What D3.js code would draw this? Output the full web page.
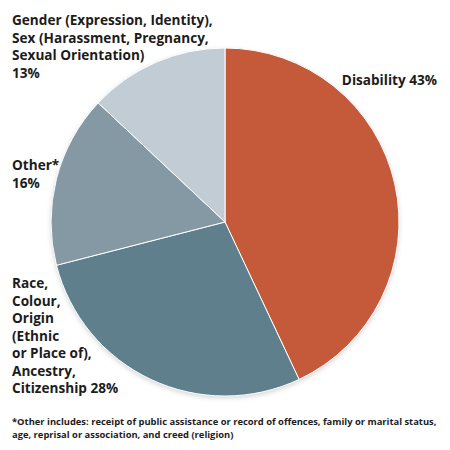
<!DOCTYPE html>
<html>
<head>
<meta charset="utf-8">
<script src="https://cdn.jsdelivr.net/npm/d3@7"></script>
<style>
body { margin: 0; background: #fff; }
text { font-family: "Open Sans", Lato, sans-serif; font-weight: 700; fill: #1c1c1c; }
</style>
</head>
<body>
<div id="container"></div>
<script>
// data
var categories = ["Disability", "Race", "Other", "Gender"];
var shares = [43, 28, 16, 13];
var colors = ["#c55a3b", "#5e7f8b", "#8499a4", "#c1ccd4"];
var labelLines = [
    ["Disability 43%"],
    ["Race,", "Colour,", "Origin", "(Ethnic", "or Place of),", "Ancestry,", "Citizenship 28%"],
    ["Other*", "16%"],
    ["Gender (Expression, Identity),", "Sex (Harassment, Pregnancy,", "Sexual Orientation)", "13%"]
];
var footnote = [
    "*Other includes: receipt of public assistance or record of offences, family or marital status,",
    "age, reprisal or association, and creed (religion)"
];

var width = 450, height = 450;
var cx = 225, cy = 222, radius = 174;

svg = d3.select("#container")
    .append("svg")
    .attr("width", width)
    .attr("height", height)

var defs = svg.append("defs")
var shadow = defs.append("filter")
    .attr("id", "shadow")
    .attr("x", "-10%").attr("y", "-10%")
    .attr("width", "120%").attr("height", "120%")
shadow.append("feDropShadow")
    .attr("dx", 0).attr("dy", 2)
    .attr("stdDeviation", 2.5)
    .attr("flood-color", "#000")
    .attr("flood-opacity", 0.18)

var pie = d3.pie().sort(null).value(function(d) { return d; });
var arc = d3.arc().innerRadius(0).outerRadius(radius);

var g = svg.append("g")
    .attr("transform", "translate(" + cx + "," + cy + ")")

g.append("circle")
    .attr("r", radius)
    .attr("fill", "#ccc")
    .attr("filter", "url(#shadow)")

g.selectAll("path")
    .data(pie(shares))
    .enter()
    .append("path")
        .attr("d", arc)
        .attr("fill", function(d, i) { return colors[i]; })
        .attr("stroke", "#fff")
        .attr("stroke-width", 1)

// label anchors (x, first baseline, line step, anchor)
var labelPos = [
    {x: 437, y: 85, step: 17.5, anchor: "end"},
    {x: 12, y: 288, step: 17.5, anchor: "start"},
    {x: 12, y: 170, step: 17.5, anchor: "start"},
    {x: 12, y: 25, step: 17.5, anchor: "start"}
];

labelLines.forEach(function(lines, i) {
    var p = labelPos[i];
    var t = svg.append("text")
        .attr("class", "label")
        .attr("text-anchor", p.anchor)
        .attr("font-size", "13.6px")
    lines.forEach(function(line, j) {
        t.append("tspan")
            .attr("x", p.x)
            .attr("y", p.y + j * p.step)
            .text(line)
    })
})

var foot = svg.append("text")
    .attr("font-size", "9.4px")
footnote.forEach(function(line, j) {
    foot.append("tspan")
        .attr("x", 12)
        .attr("y", 425 + j * 13)
        .text(line)
})
</script>
</body>
</html>
